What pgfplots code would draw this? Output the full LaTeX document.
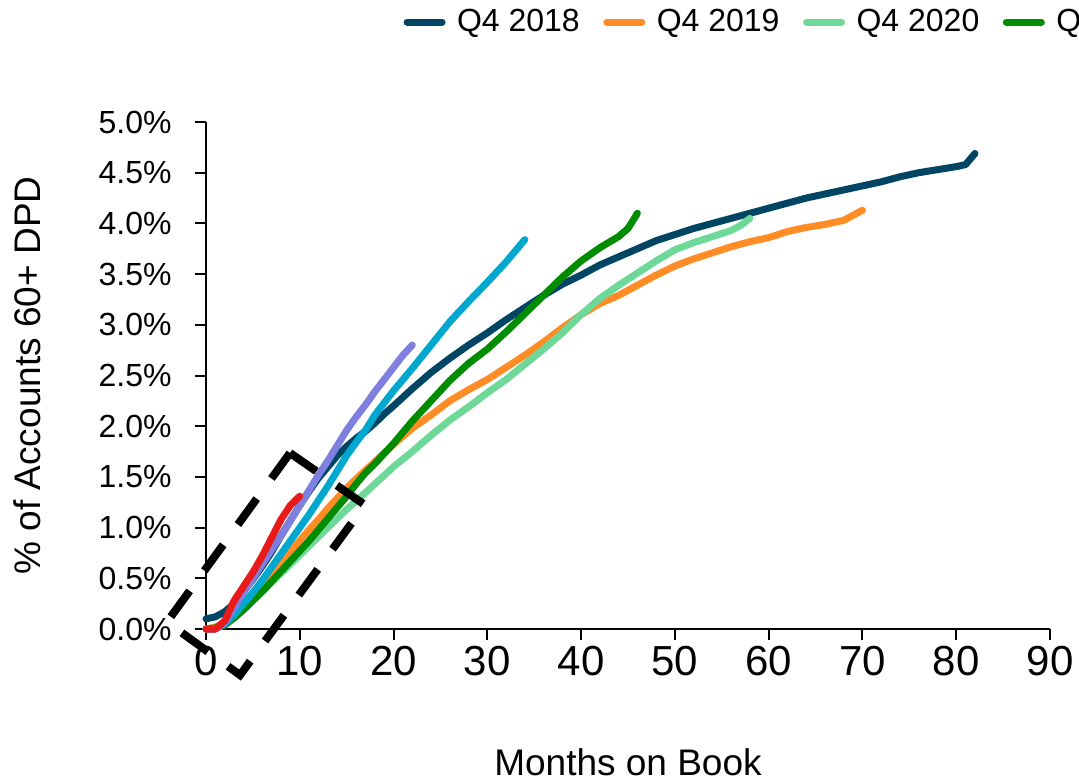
\documentclass[border=0pt]{standalone}
\usepackage{fontspec}
\setmainfont{Liberation Sans}
\usepackage{pgfplots}
\pgfplotsset{compat=1.18}
\definecolor{cNavy}{HTML}{004563}
\definecolor{cOrange}{HTML}{FF8C25}
\definecolor{cLight}{HTML}{6ED898}
\definecolor{cGreen}{HTML}{008C00}
\definecolor{cCyan}{HTML}{00A8D0}
\definecolor{cPurple}{HTML}{7F7FE0}
\definecolor{cRed}{HTML}{E81A1A}
\begin{document}
\begin{tikzpicture}
\path[use as bounding box] (-103pt,-76.5pt) rectangle (436.5pt,314.5pt);
\clip (-103pt,-76.5pt) rectangle (436.5pt,314.5pt);
\begin{axis}[
  at={(0pt,0pt)}, anchor=south west,
  scale only axis, width=422pt, height=253.5pt,
  xmin=0, xmax=90, ymin=0, ymax=5,
  axis lines=left, axis line style={-, line width=1pt, black},
  xtick={0,10,...,90}, ytick={0,0.5,...,5},
  tick align=outside, major tick length=5.5pt,
  tick style={line width=1pt, black},
  /pgf/number format/assume math mode=true,
  xticklabel={\pgfmathprintnumber[fixed,precision=0]{\tick}},
  yticklabel={\pgfmathprintnumber[fixed,fixed zerofill,precision=1]{\tick}\%},
  yticklabel style={font=\fontsize{16}{16}\selectfont, inner sep=0pt, anchor=east, xshift=-11.5pt},
  xticklabel style={font=\fontsize{21}{21}\selectfont, inner sep=0pt, anchor=north, yshift=-3pt},
  xlabel={Months on Book}, ylabel={\% of Accounts 60+ DPD},
  xlabel style={font=\fontsize{18.5}{18.5}\selectfont, at={(axis description cs:0.5,-0.2899)}, anchor=base, inner sep=0pt},
  ylabel style={font=\fontsize{18.5}{18.5}\selectfont, at={(axis description cs:-0.1955,0.5)}, anchor=base, inner sep=0pt},
  clip=false,
  legend columns=-1,
  legend style={at={(axis description cs:0.2299,1.1972)}, anchor=west, draw=none, fill=none,
    inner sep=0pt, outer sep=0pt, font=\fontsize{16}{16}\selectfont,
    column sep=4pt, /tikz/every even column/.append style={column sep=10pt},
    nodes={inner sep=0pt}},
  legend image code/.code={\path (0pt,0pt) (21pt,0pt); \draw[#1, line width=3.5pt, line cap=round] (1.75pt,0pt) -- (19.25pt,0pt);},
  every axis plot/.append style={line width=3.5pt, line cap=round, line join=round},
]
\addplot[cNavy] coordinates {(0,0.10) (1,0.12) (2,0.17) (3,0.25) (4,0.37) (5,0.49) (6,0.62) (7,0.76) (8,0.92) (9,1.07) (10,1.22) (11,1.36) (12,1.49) (13,1.60) (14,1.71) (15,1.80) (16,1.88) (17,1.95) (18,2.03) (19,2.12) (20,2.20) (22,2.37) (24,2.53) (26,2.67) (28,2.80) (30,2.92) (32,3.05) (34,3.17) (36,3.29) (38,3.40) (40,3.49) (42,3.59) (44,3.67) (46,3.75) (48,3.83) (50,3.89) (52,3.95) (54,4.00) (56,4.05) (58,4.10) (60,4.15) (62,4.20) (64,4.25) (66,4.29) (68,4.33) (70,4.37) (72,4.41) (74,4.46) (76,4.50) (78,4.53) (80,4.56) (81,4.58) (82,4.69)};
\addlegendentry{Q4 2018}
\addplot[cOrange] coordinates {(0,0.0) (1,0.02) (2,0.06) (3,0.14) (4,0.24) (5,0.35) (6,0.46) (7,0.56) (8,0.66) (9,0.77) (10,0.87) (11,0.98) (12,1.08) (13,1.19) (14,1.29) (15,1.39) (16,1.48) (18,1.65) (20,1.82) (22,1.98) (24,2.11) (26,2.25) (28,2.36) (30,2.46) (32,2.58) (34,2.70) (36,2.83) (38,2.97) (40,3.10) (42,3.21) (44,3.29) (46,3.39) (48,3.49) (50,3.58) (52,3.65) (54,3.71) (56,3.77) (58,3.82) (60,3.86) (62,3.92) (64,3.96) (66,3.99) (68,4.03) (70,4.13)};
\addlegendentry{Q4 2019}
\addplot[cLight] coordinates {(0,0.0) (1,0.01) (2,0.04) (3,0.11) (4,0.19) (5,0.28) (6,0.37) (7,0.46) (8,0.55) (9,0.64) (10,0.73) (11,0.82) (12,0.91) (13,1.00) (14,1.09) (15,1.18) (16,1.26) (18,1.43) (20,1.60) (22,1.75) (24,1.91) (26,2.06) (28,2.19) (30,2.33) (32,2.46) (34,2.61) (36,2.76) (38,2.92) (40,3.10) (42,3.26) (44,3.39) (46,3.51) (48,3.63) (50,3.74) (52,3.81) (54,3.87) (56,3.93) (57,3.98) (58,4.05)};
\addlegendentry{Q4 2020}
\addplot[cGreen] coordinates {(0,0) (1,0.01) (2,0.04) (3,0.11) (4,0.19) (5,0.28) (6,0.37) (7,0.47) (8,0.57) (9,0.67) (10,0.77) (11,0.87) (12,0.98) (13,1.09) (14,1.20) (15,1.31) (16,1.43) (17,1.54) (18,1.63) (20,1.83) (22,2.05) (24,2.25) (26,2.45) (28,2.62) (30,2.76) (32,2.93) (34,3.11) (36,3.29) (38,3.47) (40,3.63) (42,3.76) (44,3.87) (45,3.95) (46,4.10)};
\addlegendentry{Q4 2021}
\addplot[cCyan] coordinates {(0,0) (1,0.0) (2,0.05) (3,0.14) (4,0.25) (5,0.36) (6,0.48) (7,0.61) (8,0.74) (9,0.87) (10,1.00) (11,1.13) (12,1.27) (13,1.41) (14,1.56) (15,1.71) (16,1.84) (17,1.96) (18,2.11) (20,2.35) (22,2.57) (24,2.80) (26,3.03) (28,3.23) (30,3.42) (32,3.62) (33,3.73) (34,3.84)};
\addlegendentry{Q4 2022}
\addplot[cPurple] coordinates {(0,0) (1,0.0) (2,0.06) (3,0.21) (4,0.36) (5,0.50) (6,0.64) (7,0.78) (8,0.92) (9,1.07) (10,1.22) (11,1.37) (12,1.52) (13,1.66) (14,1.81) (15,1.96) (16,2.09) (17,2.21) (18,2.34) (19,2.46) (20,2.58) (21,2.70) (22,2.80)};
\addlegendentry{Q4 2023}
\addplot[cRed] coordinates {(0,0.0) (1,0.0) (2,0.08) (3,0.28) (4,0.42) (5,0.56) (6,0.72) (7,0.90) (8,1.08) (9,1.22) (10,1.31)};
\addlegendentry{Q4 2024}
\draw[black, line width=4pt, line cap=butt, line join=miter, dash pattern=on 16pt off 12.5pt]
  (axis cs:8.96,1.736) -- (axis cs:16.95,1.223) -- (axis cs:3.63,-0.454) -- (axis cs:-4.16,0.069) -- cycle;
\end{axis}
\end{tikzpicture}
\end{document}
